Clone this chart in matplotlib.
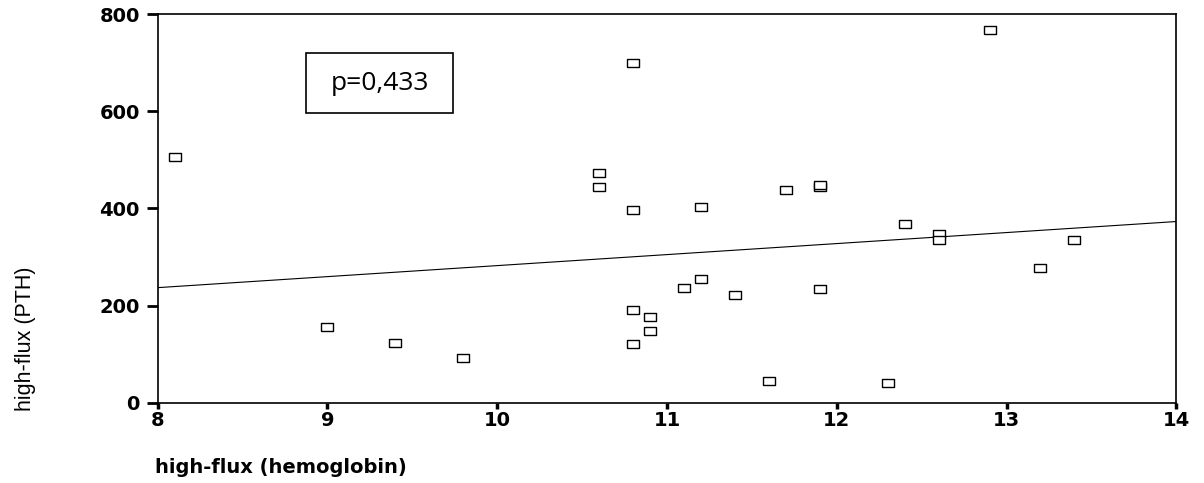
import numpy as np
import matplotlib.pyplot as plt
from matplotlib.path import Path
from matplotlib.patches import Rectangle

# Data
hemoglobin = [8.1, 9.0, 9.4, 9.8, 10.6, 10.6, 10.8, 10.8, 10.8, 10.8, 10.9, 10.9,
              11.1, 11.2, 11.2, 11.4, 11.6, 11.7, 11.9, 11.9, 11.9, 12.3, 12.4,
              12.6, 12.6, 12.9, 13.2, 13.4]
pth = [505, 155, 124, 93, 472, 445, 699, 396, 190, 122, 177, 148,
       237, 254, 402, 221, 45, 437, 445, 448, 235, 41, 367,
       348, 336, 767, 278, 336]

fit_x = [8, 14]
fit_y = [237, 373]

xticks = [8, 9, 10, 11, 12, 13, 14]
yticks = [0, 200, 400, 600, 800]

# flat rectangle marker
rect = Path([(-1, -0.6), (1, -0.6), (1, 0.6), (-1, 0.6), (-1, -0.6)])

fig = plt.figure(figsize=(12.04, 4.83), dpi=100)
ax = fig.add_axes([0.131, 0.166, 0.846, 0.805])

ax.plot(fit_x, fit_y, color='black', lw=0.8)
ax.scatter(hemoglobin, pth, marker=rect, s=75, facecolors='white',
           edgecolors='black', linewidths=1.0, zorder=3)

ax.set_xlim(8, 14)
ax.set_ylim(0, 800)
ax.set_xticks(xticks)
ax.set_yticks(yticks)
for lab in ax.get_xticklabels() + ax.get_yticklabels():
    lab.set_fontfamily('DejaVu Sans')
    lab.set_fontweight('bold')
    lab.set_fontsize(14)
ax.tick_params(axis='y', direction='out', length=8, width=2, pad=5)
ax.tick_params(axis='x', direction='out', length=4, width=2.5, pad=2)
for sp in ax.spines.values():
    sp.set_linewidth(1.2)

fig.text(0.0215, 0.298, 'high-flux (PTH)', rotation=90, ha='center',
         va='center', fontsize=15.5, fontfamily='Liberation Sans')
fig.text(0.129, 0.033, 'high-flux (hemoglobin)', ha='left', va='center',
         fontsize=14, fontweight='bold', fontfamily='DejaVu Sans')

# p-value box
fig.patches.append(Rectangle((0.254, 0.766), 0.122, 0.124,
                             transform=fig.transFigure, facecolor='white',
                             edgecolor='black', linewidth=1.2, zorder=5))
fig.text(0.3156, 0.828, 'p=0,433', ha='center', va='center', fontsize=19,
         fontfamily='Open Sans', zorder=6)

fig.savefig('out.png', dpi=100)
